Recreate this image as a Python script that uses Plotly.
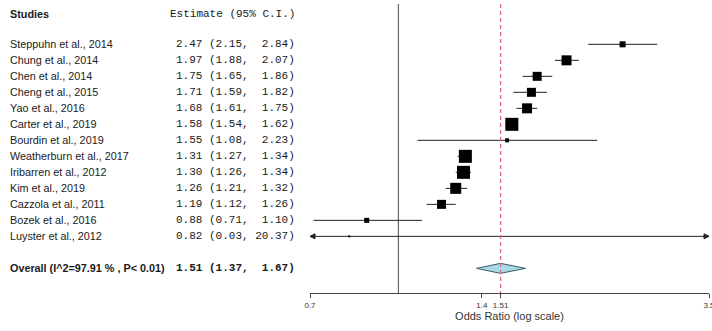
import math
import plotly.graph_objects as go

# ---------------- data ----------------
studies = ["Steppuhn et al., 2014", "Chung et al., 2014", "Chen et al., 2014",
           "Cheng et al., 2015", "Yao et al., 2016", "Carter et al., 2019",
           "Bourdin et al., 2019", "Weatherburn et al., 2017", "Iribarren et al., 2012",
           "Kim et al., 2019", "Cazzola et al., 2011", "Bozek et al., 2016",
           "Luyster et al., 2012"]
estimate = [2.47, 1.97, 1.75, 1.71, 1.68, 1.58, 1.55, 1.31, 1.30, 1.26, 1.19, 0.88, 0.82]
ci_low = [2.15, 1.88, 1.65, 1.59, 1.61, 1.54, 1.08, 1.27, 1.26, 1.21, 1.12, 0.71, 0.03]
ci_high = [2.84, 2.07, 1.86, 1.82, 1.75, 1.62, 2.23, 1.34, 1.34, 1.32, 1.26, 1.10, 20.37]
box_size = [6, 10, 9, 9, 10, 13, 4, 13, 13, 11, 9, 5, 2]

overall_label = "Overall (I^2=97.91 % , P< 0.01)"
overall_est, overall_low, overall_high = 1.51, 1.37, 1.67

tick_vals = [0.7, 1.4, 1.51, 3.5]
tick_text = ["0.7", "1.4", "1.51", "3.5"]

# ---------------- layout constants ----------------
W, H = 712, 331
X_MIN, X_MAX = 0.7, 3.5
PLOT_L, PLOT_R = 310, 709
Y_TOP, Y_BOT = -2.52, 15.54
overall_row = len(studies) + 1
px_per_log = (PLOT_R - PLOT_L) / math.log(X_MAX / X_MIN)
px_per_row = 16.0

def nb(s):
    return s.replace(" ", "\u00a0")

def fmt(e, lo, hi):
    return nb(f"{e:.2f} ({lo:.2f}, {hi:5.2f})")

fig = go.Figure()
rows = list(range(len(studies)))

# reference line at 1
fig.add_trace(go.Scatter(x=[1, 1], y=[Y_TOP, Y_BOT], mode="lines",
                         line=dict(color="#666666", width=1.2), hoverinfo="skip"))

# longer end ticks of the axis
end_tick = 7 / px_per_row
fig.add_trace(go.Scatter(x=[X_MIN, X_MIN, None, X_MAX, X_MAX],
                         y=[Y_BOT, Y_BOT + end_tick, None, Y_BOT, Y_BOT + end_tick],
                         mode="lines", line=dict(color="#444444", width=1),
                         hoverinfo="skip", cliponaxis=False))

# CI lines
cx, cy = [], []
for r, lo, hi in zip(rows, ci_low, ci_high):
    cx += [max(lo, X_MIN), min(hi, X_MAX), None]
    cy += [r, r, None]
fig.add_trace(go.Scatter(x=cx, y=cy, mode="lines",
                         line=dict(color="#222222", width=1), hoverinfo="skip"))

# arrowheads for clipped CIs
alen = math.exp(5 / px_per_log)
ah = 2.5 / px_per_row
for r, lo, hi in zip(rows, ci_low, ci_high):
    if lo < X_MIN:
        fig.add_trace(go.Scatter(x=[X_MIN * alen, X_MIN, X_MIN * alen, X_MIN * alen],
                                 y=[r - ah, r, r + ah, r - ah], mode="lines", fill="toself",
                                 fillcolor="#222222", line=dict(color="#222222", width=1),
                                 hoverinfo="skip", cliponaxis=False))
    if hi > X_MAX:
        fig.add_trace(go.Scatter(x=[X_MAX / alen, X_MAX, X_MAX / alen, X_MAX / alen],
                                 y=[r - ah, r, r + ah, r - ah], mode="lines", fill="toself",
                                 fillcolor="#222222", line=dict(color="#222222", width=1),
                                 hoverinfo="skip", cliponaxis=False))

# boxes
fig.add_trace(go.Scatter(x=estimate, y=rows, mode="markers",
                         marker=dict(symbol="square", size=box_size, color="black",
                                     opacity=1, line=dict(width=0)),
                         hoverinfo="skip"))

# overall diamond
dh = 5 / px_per_row
fig.add_trace(go.Scatter(x=[overall_low, overall_est, overall_high, overall_est, overall_low],
                         y=[overall_row, overall_row - dh, overall_row, overall_row + dh, overall_row],
                         mode="lines", fill="toself", fillcolor="#a9d9e8",
                         line=dict(color="#3a5a66", width=1), hoverinfo="skip"))

# overall dashed line
fig.add_trace(go.Scatter(x=[overall_est, overall_est], y=[Y_TOP, Y_BOT + 0.3], mode="lines",
                         line=dict(color="#d96a78", width=1.3, dash="4px,3px"),
                         hoverinfo="skip", cliponaxis=False))

# ---------------- text ----------------
ann = []
NAME_X = 8 / W
EST_X = 297 / W
name_font = dict(family="Liberation Sans, Arial, sans-serif", size=10.8, color="#1a1a1a")
mono_font = dict(family="Liberation Mono, Courier New, monospace", size=11, color="#1a1a1a")

ann.append(dict(x=NAME_X, y=-1.9, xref="paper", yref="y", text="<b>Studies</b>",
                showarrow=False, xanchor="left", yanchor="middle", font=name_font))
ann.append(dict(x=EST_X, y=-1.9, xref="paper", yref="y", text=nb("Estimate (95% C.I.)"),
                showarrow=False, xanchor="right", yanchor="middle", font=mono_font))
for r, s, e, lo, hi in zip(rows, studies, estimate, ci_low, ci_high):
    ann.append(dict(x=NAME_X, y=r, xref="paper", yref="y", text=s, showarrow=False,
                    xanchor="left", yanchor="middle", font=name_font))
    ann.append(dict(x=EST_X, y=r, xref="paper", yref="y", text=fmt(e, lo, hi), showarrow=False,
                    xanchor="right", yanchor="middle", font=mono_font))
ann.append(dict(x=NAME_X, y=overall_row, xref="paper", yref="y", text=f"<b>{overall_label}</b>",
                showarrow=False, xanchor="left", yanchor="middle", font=name_font))
ann.append(dict(x=EST_X, y=overall_row, xref="paper", yref="y",
                text="<b>" + fmt(overall_est, overall_low, overall_high) + "</b>",
                showarrow=False, xanchor="right", yanchor="middle", font=mono_font))

fig.update_layout(
    width=W, height=H,
    margin=dict(l=0, r=0, t=4, b=H - 293, autoexpand=False),
    paper_bgcolor="white", plot_bgcolor="white",
    showlegend=False,
    annotations=ann,
    xaxis=dict(type="log", range=[math.log10(X_MIN), math.log10(X_MAX)],
               domain=[PLOT_L / W, PLOT_R / W], automargin=False,
               showline=True, linecolor="#444444", linewidth=1,
               ticks="outside", ticklen=4, tickcolor="#444444", tickwidth=1,
               tickvals=tick_vals, ticktext=tick_text, ticklabeloverflow="allow",
               tickfont=dict(family="Liberation Sans, Arial, sans-serif", size=8, color="#333333"),
               showgrid=False, zeroline=False,
               title=dict(text="Odds Ratio (log scale)", standoff=3,
                          font=dict(family="Liberation Sans, Arial, sans-serif", size=11,
                                    color="#333333"))),
    yaxis=dict(range=[Y_BOT, Y_TOP], visible=False, showgrid=False, zeroline=False,
               automargin=False),
)

fig.write_html("out.html")
